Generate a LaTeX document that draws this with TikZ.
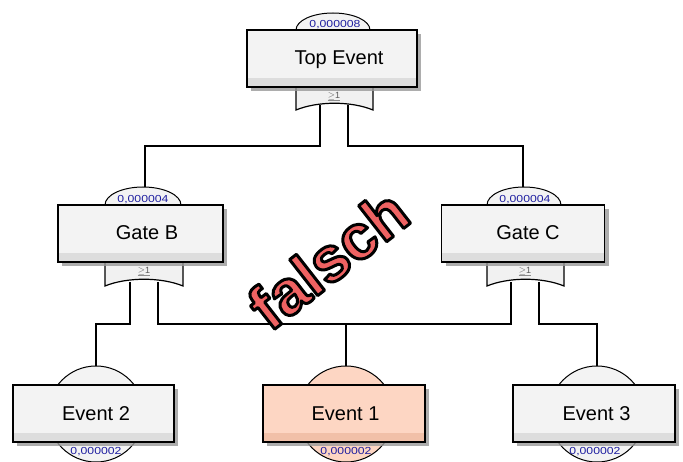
\documentclass[tikz,border=0pt]{standalone}
\usepackage{fontspec}
\setmainfont{Liberation Sans}
\newfontfamily\probfont{Liberation Sans}[FakeStretch=1.2]
\usetikzlibrary{shadows}

\definecolor{boxfill}{HTML}{F3F3F3}
\definecolor{boxband}{HTML}{DDDDDD}
\definecolor{peach}{HTML}{FDD6C3}
\definecolor{peachband}{HTML}{F1C0A8}
\definecolor{probblue}{HTML}{1E1EA0}
\definecolor{warnred}{HTML}{EE6262}
\definecolor{gatefill}{HTML}{F1F1F1}

% filled glyphs with a black outline (text render mode 2)
\newcommand\outlinedtext[1]{\special{pdf:literal direct 2 Tr 3 w 1 j 0 0 0 RG}#1\special{pdf:literal direct 0 Tr}}

\tikzset{
  basebox/.style={draw=black, line width=1.2pt, inner sep=0pt,
    minimum height=57pt,
    drop shadow={shadow xshift=4pt, shadow yshift=-4pt, fill=black!40, opacity=0.8}},
  greybox/.style={basebox, fill=boxfill,
    path picture={\fill[boxband] (path picture bounding box.south west)
      rectangle ([yshift=9pt]path picture bounding box.south east);}},
  peachbox/.style={basebox, fill=peach,
    path picture={\fill[peachband] (path picture bounding box.south west)
      rectangle ([yshift=9pt]path picture bounding box.south east);}},
  lbl/.style={anchor=base, inner sep=0pt, font=\fontsize{20}{20}\selectfont},
  prob/.style={anchor=base, inner sep=0pt, text=probblue, font=\probfont\fontsize{10.2}{10.2}\selectfont},
  orsign/.style={inner sep=0pt, text=black!65, font=\fontsize{9}{9}\selectfont},
  bumpst/.style={draw=black, line width=1pt, fill=boxfill},
  gatest/.style={draw=black, line width=1.2pt, fill=gatefill},
  wire/.style={draw=black, line width=1.2pt},
  evcirc/.style={circle, draw=black, line width=1pt, minimum size=96pt, inner sep=0pt},
}

\begin{document}
\begin{tikzpicture}[x=1pt, y=-1pt]
\useasboundingbox (0,0) rectangle (683,462);

% ---- connection points ----
\coordinate (bus1) at (0,146);
\coordinate (bus2) at (0,324);
\coordinate (topL) at (320,105);
\coordinate (topR) at (348,105);
\coordinate (gbIn) at (145,188);
\coordinate (gcIn) at (523,188);
\coordinate (gbL) at (130,282);
\coordinate (gbR) at (158,282);
\coordinate (gcL) at (511,282);
\coordinate (gcR) at (539,282);
\coordinate (e2In) at (96,367);
\coordinate (e1In) at (346,367);
\coordinate (e3In) at (597,367);

% ---- connectors ----
\draw[wire] (topL) -- (topL |- bus1) -| (gbIn);
\draw[wire] (topR) -- (topR |- bus1) -| (gcIn);
\draw[wire] (gbL) -- (gbL |- bus2) -| (e2In);
\draw[wire] (gbR) -- (gbR |- bus2) -- (gcL |- bus2) -- (gcL);
\draw[wire] (e1In) -- (e1In |- bus2);
\draw[wire] (gcR) -- (gcR |- bus2) -| (e3In);

% ---- probability bumps on top of the gates ----
\draw[bumpst] (296,33) -- (296,30) arc[start angle=180, end angle=360, x radius=37, y radius=17] -- (370,33) -- cycle;
\draw[bumpst] (105,208) -- (105,205) arc[start angle=180, end angle=360, x radius=38, y radius=18] -- (181,208) -- cycle;
\draw[bumpst] (487,208) -- (487,205) arc[start angle=180, end angle=360, x radius=37, y radius=18] -- (561,208) -- cycle;

% ---- OR gate bodies ----
\draw[gatest] (296,85) -- (296,110) .. controls (318,101) and (351,101) .. (373,110) -- (373,85) -- cycle;
\draw[gatest] (105,260) -- (105,286) .. controls (127,277) and (161,277) .. (183,286) -- (183,260) -- cycle;
\draw[gatest] (487,260) -- (487,286) .. controls (509,277) and (542,277) .. (564,286) -- (564,260) -- cycle;

% ---- basic event circles ----
\node[evcirc, fill=boxfill] (c2) at (96,414) {};
\node[evcirc, fill=peach] (c1) at (346,414) {};
\node[evcirc, fill=boxfill] (c3) at (597,414) {};

% ---- event boxes ----
\node[greybox, minimum width=170pt] (top) at (332,58.5) {};
\node[greybox, minimum width=165pt] (gb) at (140.5,233.5) {};
\node[greybox, minimum width=163pt] (gc) at (523,233.5) {};
\node[greybox, minimum width=161pt] (e2) at (93.5,413.5) {};
\node[peachbox, minimum width=162pt] (e1) at (344,413.5) {};
\node[greybox, minimum width=162pt] (e3) at (594,413.5) {};

% ---- box labels ----
\node[lbl] (tTop) at (339,65) {Top Event};
\node[lbl] (tGb) at (147,240) {Gate B};
\node[lbl] (tGc) at (528,240) {Gate C};
\node[lbl] (tE2) at (96,420) {Event 2};
\node[lbl] (tE1) at (345.5,420) {Event 1};
\node[lbl] (tE3) at (596.5,420) {Event 3};

% ---- probabilities ----
\node[prob] (pTop) at (335,27.3) {0,000008};
\node[prob] (pGb) at (143,202.7) {0,000004};
\node[prob] (pGc) at (525,203) {0,000004};
\node[prob] (pE2) at (96,454) {0,000002};
\node[prob] (pE1) at (346,454) {0,000002};
\node[prob] (pE3) at (595,454) {0,000002};

% ---- gate symbols ----
\node[orsign] (oTop) at (334,96) {$\geq$1};
\node[orsign] (oGb) at (144,271) {$\geq$1};
\node[orsign] (oGc) at (525,271) {$\geq$1};
\draw[black!45, line width=0.5pt] (oTop.south west) -- (oTop.south east);
\draw[black!45, line width=0.5pt] (oGb.south west) -- (oGb.south east);
\draw[black!45, line width=0.5pt] (oGc.south west) -- (oGc.south east);

% ---- stamp ----
\node[rotate=38, text=warnred, inner sep=0pt, font=\bfseries\fontsize{63}{63}\selectfont] (stamp) at (328,259) {\outlinedtext{falsch}};
\end{tikzpicture}
\end{document}
